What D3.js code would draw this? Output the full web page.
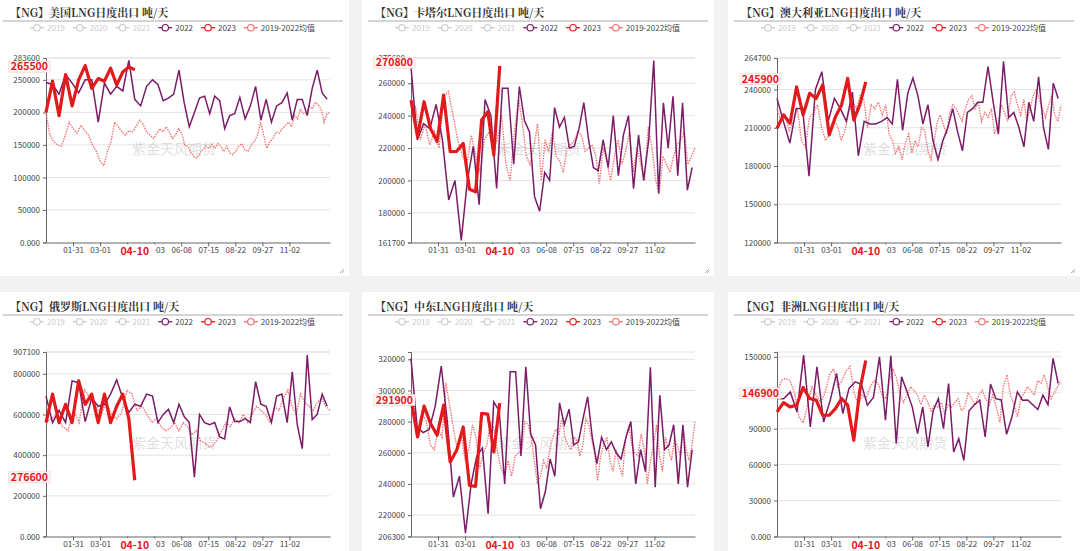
<!DOCTYPE html>
<html>
<head>
<meta charset="utf-8">
<script src="https://cdn.jsdelivr.net/npm/d3@7"></script>
<style>
  body { margin: 0; background: #f2f2f2; width: 1080px; height: 551px; overflow: hidden; }
  text { font-family: "Noto Sans CJK SC", "Noto Sans", sans-serif; }
</style>
</head>
<body>
<svg id="chart" width="1080" height="551"></svg>
<script>
// values in thousand tonnes / day
const xTickLabels = ['01-31', '03-01', '04-01', '05-03', '06-08', '07-15', '08-22', '09-27', '11-02']
const latestDate = '04-10'
const legendNames = ['2019', '2020', '2021', '2022', '2023', '2019-2022均值']

const us2022 = [246, 243, 228, 258, 245, 230, 250, 250, 185, 245, 228, 240, 233, 280, 220, 210, 240, 250, 243, 218, 222, 228, 265, 215, 178, 200, 222, 225, 198, 225, 218, 175, 195, 198, 223, 190, 210, 240, 188, 220, 185, 210, 215, 230, 188, 220, 220, 195, 237, 265, 230, 220]
const us2023 = [200, 248, 195, 258, 210, 250, 272, 237, 252, 248, 268, 242, 262, 270, 265.5]
const usAvg = [200, 165, 155, 150, 148, 165, 185, 175, 168, 180, 172, 165, 150, 140, 125, 118, 140, 155, 185, 178, 170, 165, 172, 170, 178, 188, 182, 170, 165, 160, 168, 175, 170, 178, 170, 160, 165, 175, 168, 150, 148, 138, 132, 130, 138, 143, 148, 145, 150, 145, 152, 148, 140, 148, 138, 135, 140, 148, 152, 142, 140, 150, 155, 165, 185, 165, 145, 155, 160, 170, 168, 175, 180, 185, 178, 195, 190, 205, 198, 200, 210, 205, 215, 212, 205, 185, 198, 200]

const qa2022 = [270, 225, 235, 232, 247, 225, 188, 200, 163, 200, 221, 185, 250, 240, 195, 257, 257, 210, 258, 237, 230, 190, 181, 205, 200, 245, 233, 239, 220, 221, 232, 248, 225, 208, 206, 225, 208, 240, 203, 228, 240, 195, 228, 200, 225, 274, 192, 248, 220, 252, 203, 248, 194, 208]
const qa2023 = [249.6, 227, 248.6, 232, 224, 252.7, 217.8, 218, 222.9, 194.6, 193, 237.3, 242.4, 215.7, 270.8]
const qaAvg = [250, 245, 225, 235, 222, 230, 220, 252, 255, 240, 225, 215, 210, 228, 215, 205, 225, 230, 220, 225, 240, 210, 200, 230, 250, 235, 215, 210, 220, 235, 200, 225, 218, 230, 215, 212, 205, 220, 222, 225, 230, 228, 218, 220, 222, 215, 198, 220, 212, 200, 215, 225, 210, 218, 230, 205, 220, 210, 200, 233, 220, 200, 192, 215, 210, 205, 215, 222, 225, 230, 210, 215, 220]

const au2022 = [233, 215, 198, 225, 225, 172, 240, 254, 215, 233, 225, 215, 238, 188, 215, 213, 213, 215, 218, 213, 248, 208, 237, 249, 235, 213, 228, 200, 185, 200, 210, 225, 207, 192, 222, 225, 230, 230, 258, 230, 205, 262, 218, 222, 210, 195, 230, 215, 250, 210, 193, 245, 233]
const au2023 = [209.6, 220, 213.5, 242, 220, 237, 233, 243.5, 204.4, 218.7, 227.9, 248.8, 216, 227.9, 245.9]
const auAvg = [225, 215, 220, 208, 215, 225, 200, 195, 218, 222, 228, 210, 200, 205, 215, 212, 200, 208, 222, 230, 225, 235, 232, 210, 228, 225, 230, 220, 228, 205, 200, 190, 195, 185, 198, 205, 190, 200, 195, 210, 208, 192, 185, 200, 215, 220, 212, 205, 222, 228, 225, 220, 215, 225, 232, 235, 225, 230, 215, 222, 218, 225, 205, 212, 228, 222, 215, 235, 238, 228, 220, 232, 215, 225, 235, 240, 232, 225, 218, 228, 235, 220, 215, 228]

const ru2022 = [690, 560, 620, 560, 765, 755, 565, 680, 640, 650, 700, 770, 680, 610, 650, 640, 700, 690, 560, 600, 625, 560, 650, 590, 560, 292, 600, 560, 550, 560, 490, 480, 637, 565, 565, 580, 560, 761, 650, 640, 560, 690, 700, 560, 810, 550, 432, 892, 575, 600, 700, 640]
const ru2023 = [560, 700, 560, 650, 560, 765, 650, 700, 560, 700, 560, 640, 700, 580, 276.6]
const ruAvg = [560, 580, 600, 540, 520, 620, 560, 720, 680, 640, 600, 660, 600, 580, 610, 720, 700, 620, 640, 600, 560, 580, 540, 520, 530, 560, 520, 560, 540, 500, 520, 470, 460, 440, 450, 480, 520, 560, 540, 580, 560, 600, 560, 600, 640, 620, 600, 560, 640, 620, 680, 720, 640, 600, 700, 660, 640, 620, 660, 680, 640, 620]

const me2022 = [320.6, 276.6, 273, 275, 290, 315.7, 280, 231.6, 245, 208.4, 240, 258, 263, 220.9, 292.7, 287, 240, 312, 312, 258, 315.2, 272, 265, 224.1, 235, 256, 245, 292.1, 278, 288, 265, 267, 282, 296, 270, 253, 270, 262, 267, 260, 256, 270, 280, 240, 262, 248, 314.9, 238, 297, 262, 265, 278, 240, 278, 238, 262]
const me2023 = [294.9, 270.2, 290, 278.8, 271.3, 290.6, 254.1, 261.6, 276.6, 239.1, 238.5, 285.3, 284.8, 260.5, 291.9]
const meAvg = [300, 290, 270, 285, 280, 265, 262, 275, 270, 305, 290, 275, 262, 272, 255, 262, 278, 270, 250, 260, 265, 280, 275, 260, 250, 245, 255, 245, 258, 260, 262, 280, 278, 270, 255, 240, 245, 255, 250, 262, 270, 275, 272, 282, 270, 265, 262, 270, 268, 258, 265, 282, 278, 268, 260, 242, 258, 265, 270, 255, 248, 262, 252, 245, 268, 278, 265, 260, 258, 272, 262, 240, 255, 265, 278, 258, 248, 270, 262, 255, 268, 265, 258, 275, 262, 255, 265, 280]

const af2022 = [115.2, 115, 120.7, 104, 151.4, 91.5, 141.7, 95.6, 113.8, 136.1, 102.7, 123.6, 129.1, 127, 109.6, 116, 150, 97, 150.8, 77.6, 133.3, 121, 108, 85.9, 108.2, 74.7, 105, 115, 90.1, 127.7, 70.5, 81.7, 63.6, 105, 110, 113.8, 83.1, 127.2, 115, 114, 85.3, 100, 120.7, 113.8, 114, 110, 106, 118, 110, 148.7, 127.7]
const af2023 = [104, 111.8, 108.2, 109.6, 124.4, 115.2, 113.8, 101.2, 101.2, 106.8, 115.2, 109.6, 80.3, 122.1, 146.9]
const afAvg = [120, 130, 132, 130, 120, 100, 95, 110, 125, 118, 112, 120, 135, 140, 125, 130, 138, 142, 120, 110, 118, 115, 125, 130, 128, 118, 115, 130, 140, 132, 120, 112, 118, 125, 122, 118, 110, 118, 112, 105, 110, 108, 112, 102, 110, 108, 112, 115, 105, 108, 120, 115, 110, 118, 122, 115, 110, 118, 108, 95, 125, 135, 118, 110, 100, 115, 120, 125, 122, 118, 130, 128, 135, 125, 115, 120, 125, 130]

const panels = [
  { title: '【NG】美国LNG日度出口 吨/天', s2022: us2022, s2023: us2023, avg: usAvg, min: 0, max: 283.6, ticks: [0, 50, 100, 150, 200, 250, 283.6] },
  { title: '【NG】卡塔尔LNG日度出口 吨/天', s2022: qa2022, s2023: qa2023, avg: qaAvg, min: 161.7, max: 275.6, ticks: [161.7, 180, 200, 220, 240, 260, 275.6] },
  { title: '【NG】澳大利亚LNG日度出口 吨/天', s2022: au2022, s2023: au2023, avg: auAvg, min: 120, max: 264.7, ticks: [120, 150, 180, 210, 240, 264.7] },
  { title: '【NG】俄罗斯LNG日度出口 吨/天', s2022: ru2022, s2023: ru2023, avg: ruAvg, min: 0, max: 907.1, ticks: [0, 200, 400, 600, 800, 907.1] },
  { title: '【NG】中东LNG日度出口 吨/天', s2022: me2022, s2023: me2023, avg: meAvg, min: 206.3, max: 324.7, ticks: [206.3, 220, 240, 260, 280, 300, 320] },
  { title: '【NG】非洲LNG日度出口 吨/天', s2022: af2022, s2023: af2023, avg: afAvg, min: 0, max: 154, ticks: [0, 30, 60, 90, 150], grid: [120], labelAt: 117 },
]

const colors = { off: '#cccccc', s2022: '#7b1c68', s2023: '#e31a1c', avg: '#f2706f' }
const legendColors = [colors.off, colors.off, colors.off, colors.s2022, colors.s2023, colors.avg]

const svg = d3.select('#chart')
const panelX = [-3, 362, 728]
const rowY = [0, 294]

// category axis: label every 10 categories; dates between labels are uneven
const nCat = 105
const dayOf = s => {
  const [m, d] = s.split('-').map(Number)
  return d3.timeDay.count(new Date(2023, 0, 1), new Date(2023, m - 1, d)) + 1
}
const tickDays = xTickLabels.map(dayOf)
const dayToCat = d3.scaleLinear()
  .domain([2].concat(tickDays, [363]))
  .range([0].concat(tickDays.map((d, i) => 10 * (i + 1)), [nCat]))

const first2022 = 2
const last2022 = 359
const first2023 = 2

function fmt(v) {
  return v === 0 ? '0.000' : String(Math.round(v * 1000))
}

function renderPanel(p, col, row) {
  const g = svg.append('g')
    .attr('transform', `translate(${panelX[col]}, ${rowY[row]})`)

  g.append('rect')
    .attr('x', 0).attr('y', -2)
    .attr('width', 352).attr('height', 278)
    .attr('fill', '#fff')

  // title
  g.append('text')
    .attr('x', 13).attr('y', 13)
    .attr('dy', '0.35em')
    .attr('font-size', 11)
    .attr('font-weight', 'bold')
    .attr('fill', '#333')
    .style('font-family', '"Noto Serif CJK SC", "Noto Sans CJK SC", serif')
    .text(p.title)

  g.append('line')
    .attr('x1', 6).attr('x2', 346)
    .attr('y1', 21).attr('y2', 21)
    .attr('stroke', '#aaa')

  // legend
  let lx = 40
  legendNames.forEach((name, i) => {
    const c = legendColors[i]
    g.append('line')
      .attr('x1', lx - 7).attr('x2', lx + 7)
      .attr('y1', 27.7).attr('y2', 27.7)
      .attr('stroke', c).attr('stroke-width', 1.3)
    g.append('circle')
      .attr('cx', lx).attr('cy', 27.7).attr('r', 3.2)
      .attr('fill', '#fff').attr('stroke', c).attr('stroke-width', 1.2)
    const t = g.append('text')
      .attr('x', lx + 10).attr('y', 27.7)
      .attr('dy', '0.35em')
      .attr('font-size', 8)
      .attr('fill', i < 3 ? '#ccc' : '#444')
      .text(name)
    lx += 10 + t.node().getComputedTextLength() + 15
  })

  const x = d3.scaleLinear().domain([0, nCat]).range([49, 333])
  const y = d3.scaleLinear().domain([p.min, p.max]).range([242.5, 58])
  const xd = d => x(dayToCat(d))

  // grid
  const gridVals = p.ticks.concat(p.grid || [], [p.max]).filter(v => v !== p.min)
  g.append('g')
    .selectAll('line')
    .data(gridVals)
    .enter()
    .append('line')
      .attr('x1', x(0)).attr('x2', x(nCat))
      .attr('y1', d => y(d)).attr('y2', d => y(d))
      .attr('stroke', '#e3e3e3')

  // axes
  const yAxis = g.append('g')
    .attr('transform', `translate(${x(0)}, 0)`)
    .call(d3.axisLeft(y).tickValues(p.ticks).tickSize(3).tickFormat(fmt))
  yAxis.select('.domain').attr('stroke', '#666')
  yAxis.selectAll('.tick line').attr('stroke', '#666')
  yAxis.selectAll('text').attr('font-size', 8).attr('fill', '#444')
    .style('font-family', '"Noto Sans CJK SC", sans-serif')

  const latestCat = dayToCat(first2023 + 7 * (p.s2023.length - 1))
  const xAxis = g.append('g')
    .attr('transform', `translate(0, ${y(p.min)})`)
    .call(d3.axisBottom(x).tickValues(d3.range(10, 91, 10)).tickSize(4).tickPadding(1).tickSizeOuter(0)
      .tickFormat((d, i) => Math.abs(d - latestCat) < 5 ? '' : xTickLabels[i]))
  xAxis.select('.domain').attr('stroke', '#666')
  xAxis.selectAll('.tick line').attr('stroke', '#666')
  xAxis.selectAll('text').attr('font-size', 8).attr('fill', '#444')
    .style('font-family', '"Noto Sans CJK SC", sans-serif')

  // watermark
  g.append('text')
    .attr('x', 177).attr('y', 149)
    .attr('text-anchor', 'middle').attr('dy', '0.35em')
    .attr('font-size', 14)
    .attr('fill', 'rgba(160,160,160,0.35)')
    .text('紫金天风期货')

  const line = d3.line()
    .x(d => xd(d[0]))
    .y(d => y(d[1]))

  const avgPts = p.avg.map((v, i) => [first2023 + i * (363 - first2023) / (p.avg.length - 1), v])
  const pts2022 = p.s2022.map((v, i) => [first2022 + i * (last2022 - first2022) / (p.s2022.length - 1), v])
  const pts2023 = p.s2023.map((v, i) => [first2023 + i * 7, v])

  g.append('path')
    .attr('d', line(avgPts))
    .attr('fill', 'none')
    .attr('stroke', colors.avg)
    .attr('stroke-width', 1.4)
    .attr('stroke-dasharray', '1.4,1.2')

  g.append('path')
    .attr('d', line(pts2022))
    .attr('fill', 'none')
    .attr('stroke', colors.s2022)
    .attr('stroke-width', 1.5)

  g.append('path')
    .attr('d', line(pts2023))
    .attr('fill', 'none')
    .attr('stroke', colors.s2023)
    .attr('stroke-width', 3.2)
    .attr('stroke-linejoin', 'round')

  // latest value label on y axis
  const last = pts2023[pts2023.length - 1]
  const ly = y(p.labelAt !== undefined ? p.labelAt : last[1]) - 3
  const lbl = g.append('g')
  const lt = lbl.append('text')
    .attr('x', x(0) + 2).attr('y', ly)
    .attr('text-anchor', 'end').attr('dy', '0.35em')
    .attr('font-size', 10.5).attr('font-weight', 'bold')
    .attr('fill', colors.s2023)
    .text(fmt(last[1]))
  const lb = lt.node().getBBox()
  lbl.insert('rect', 'text')
    .attr('x', lb.x - 2).attr('y', ly - 5.5)
    .attr('width', lb.width + 4).attr('height', 11)
    .attr('fill', '#fff4f4').attr('stroke', '#f4d0d0').attr('stroke-width', 0.6)

  // latest date label on x axis
  const dl = g.append('g')
  const dt = dl.append('text')
    .attr('x', xd(last[0])).attr('y', y(p.min) + 9)
    .attr('text-anchor', 'middle').attr('dy', '0.35em')
    .attr('font-size', 10.5).attr('font-weight', 'bold')
    .attr('fill', colors.s2023)
    .text(latestDate)
  const db = dt.node().getBBox()
  dl.insert('rect', 'text')
    .attr('x', db.x - 4).attr('y', db.y + 1)
    .attr('width', db.width + 10).attr('height', db.height - 2)
    .attr('fill', '#fff')

  // resize corner
  g.append('path')
    .attr('d', 'M343,273 L347,269 M345,273 L347,271')
    .attr('stroke', '#999').attr('stroke-width', 0.8)
}

panels.forEach((p, i) => renderPanel(p, i % 3, Math.floor(i / 3)))
</script>
</body>
</html>
